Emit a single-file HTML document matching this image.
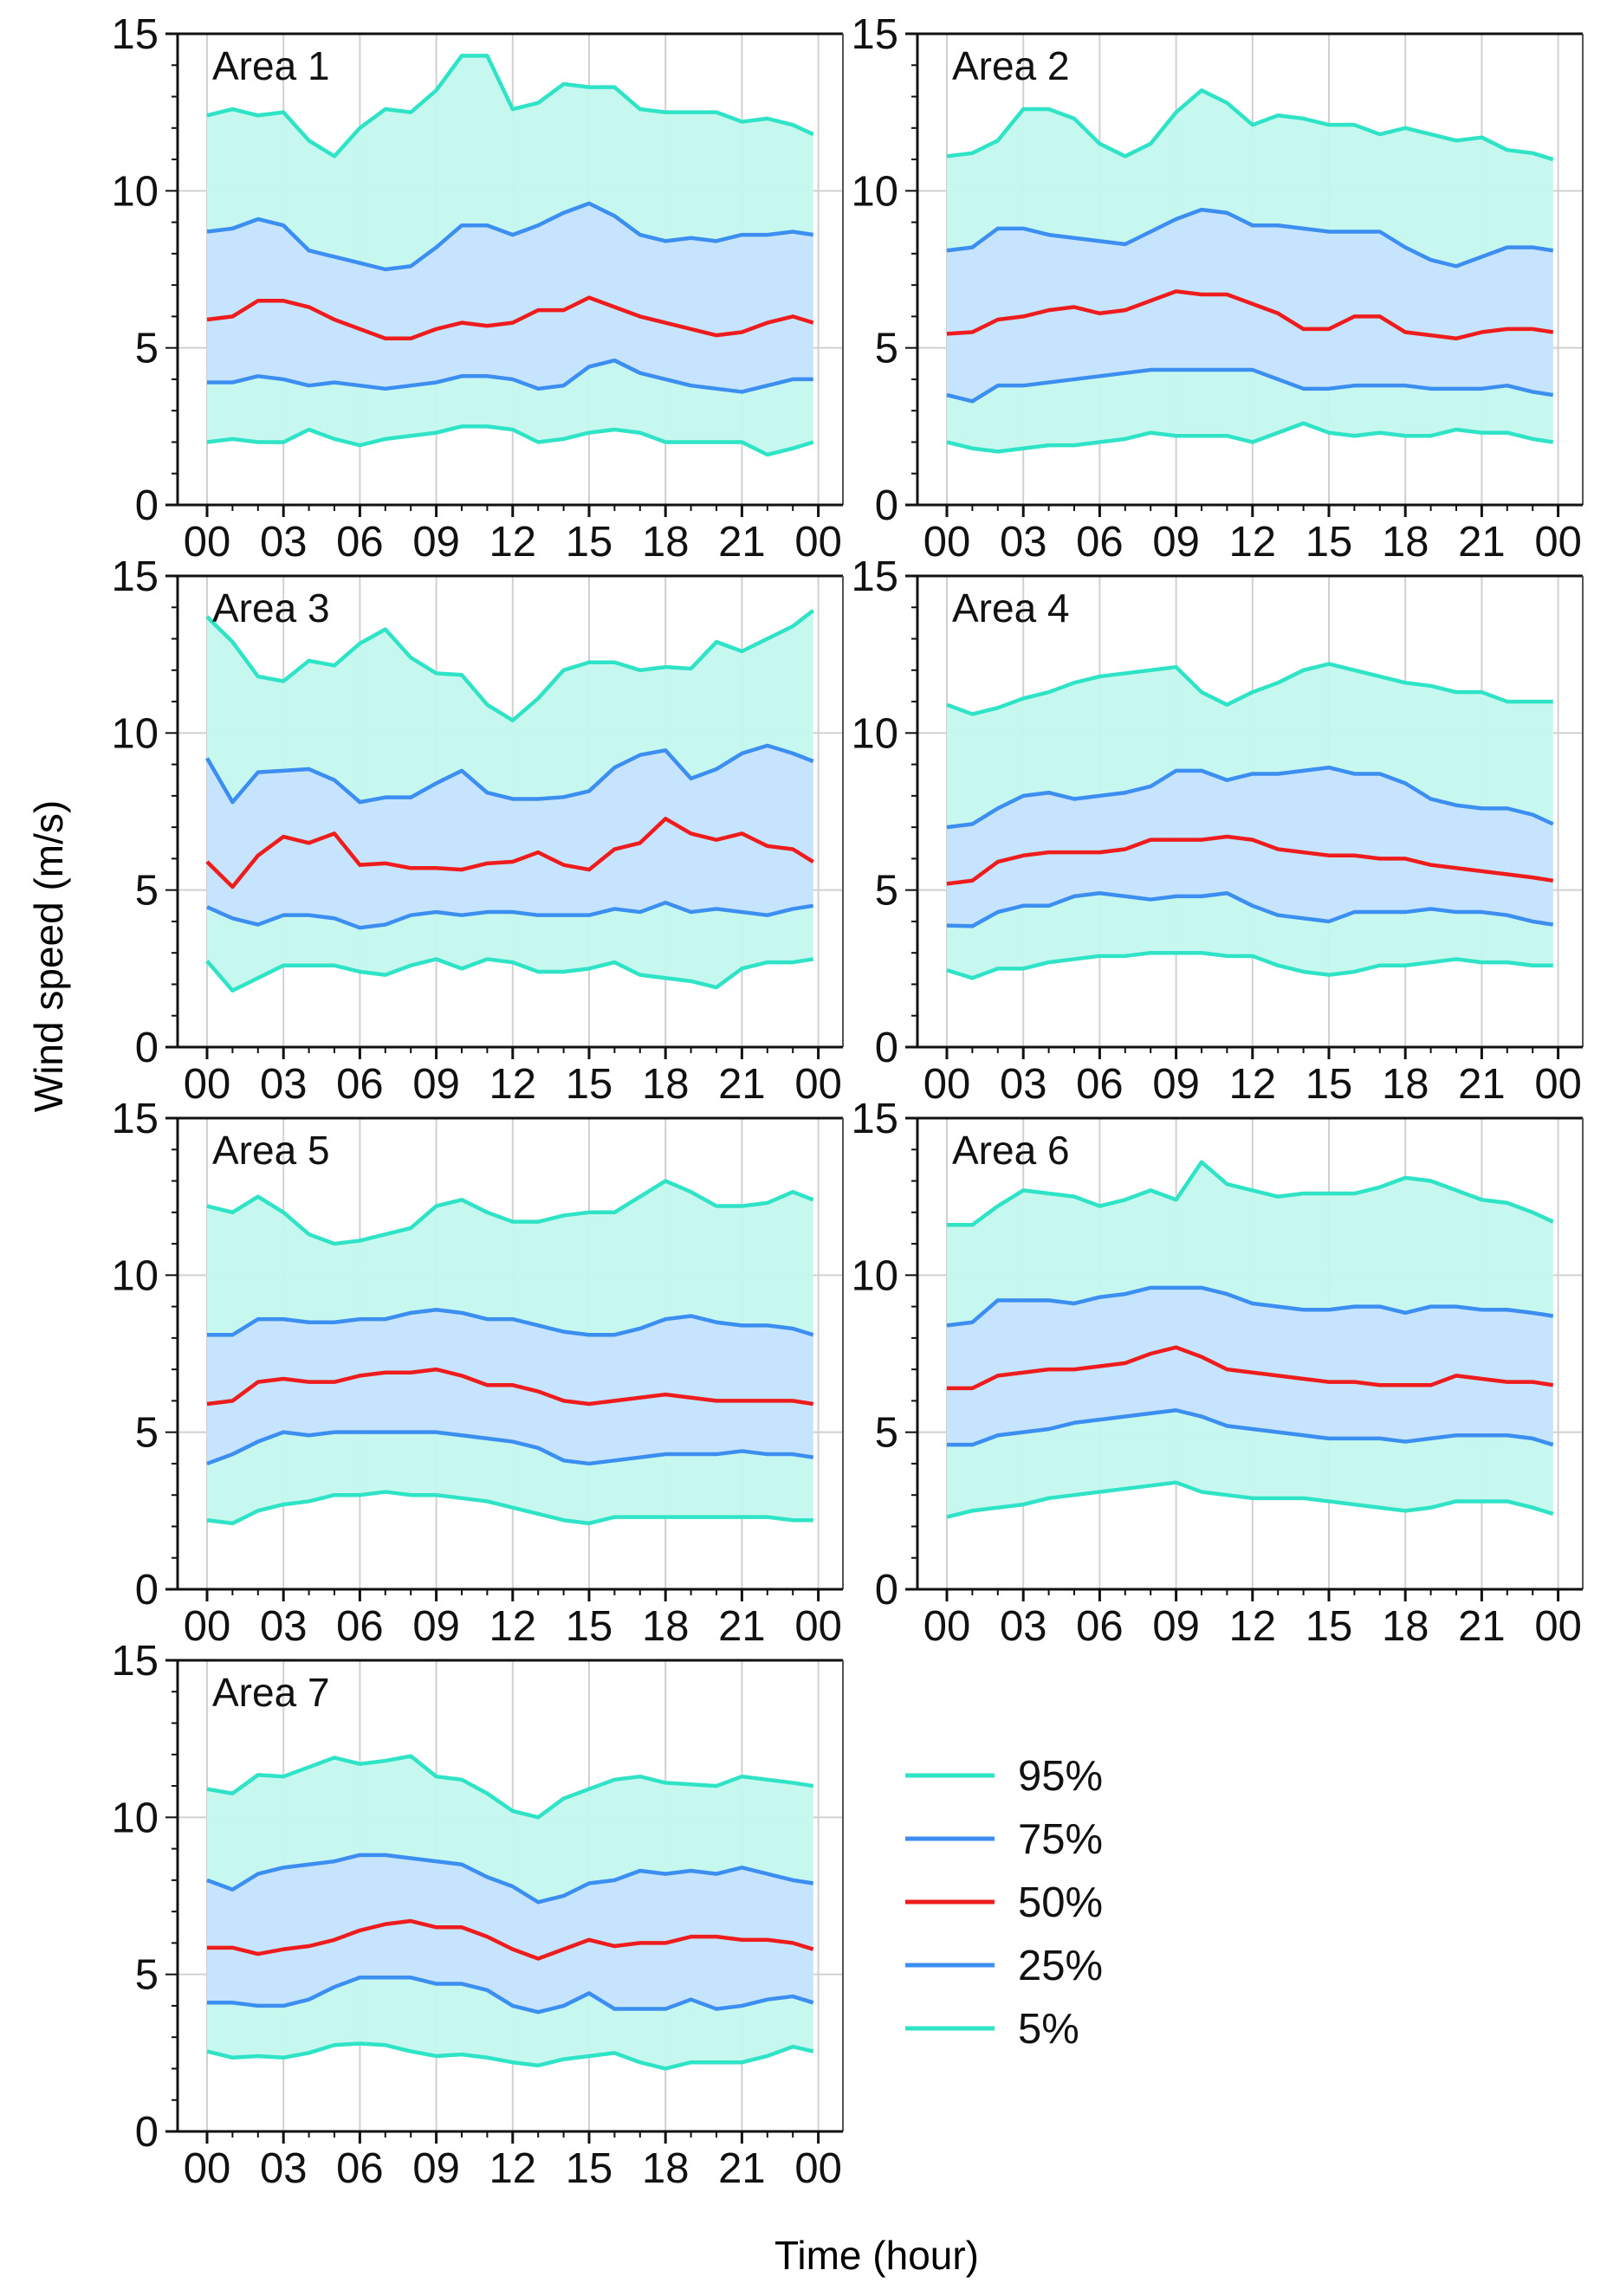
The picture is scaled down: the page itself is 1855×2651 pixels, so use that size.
<!DOCTYPE html>
<html><head><meta charset="utf-8"><style>
html,body{margin:0;padding:0;background:#fff;}
svg{display:block;font-family:"Liberation Sans",sans-serif;}
</style></head><body>
<svg id="chart" width="1855" height="2651" viewBox="0 0 1855 2651" xmlns="http://www.w3.org/2000/svg">
<text x="0" y="0" transform="translate(72,1104) rotate(-90)" font-size="46" text-anchor="middle">Wind speed (m/s)</text>
<text x="1012" y="2620" font-size="46" text-anchor="middle">Time (hour)</text>
</svg>
<script>
const hours=[0,1,2,3,4,5,6,7,8,9,10,11,12,13,14,15,16,17,18,19,20,21,22,23,23.8];
const xTickLabels=['00','03','06','09','12','15','18','21','00'];
const yTickLabels=['0','5','10','15'];
const areaNames=['Area 1','Area 2','Area 3','Area 4','Area 5','Area 6','Area 7'];
const legendLabels=['95%','75%','50%','25%','5%'];
const p95=[
[12.4,12.6,12.4,12.5,11.6,11.1,12.0,12.6,12.5,13.2,14.3,14.3,12.6,12.8,13.4,13.3,13.3,12.6,12.5,12.5,12.5,12.2,12.3,12.1,11.8],
[11.1,11.2,11.6,12.6,12.6,12.3,11.5,11.1,11.5,12.5,13.2,12.8,12.1,12.4,12.3,12.1,12.1,11.8,12.0,11.8,11.6,11.7,11.3,11.2,11.0],
[13.7,12.9,11.8,11.65,12.3,12.15,12.85,13.3,12.4,11.9,11.85,10.9,10.4,11.1,12.0,12.25,12.25,12.0,12.1,12.05,12.9,12.6,13.0,13.4,13.9],
[10.9,10.6,10.8,11.1,11.3,11.6,11.8,11.9,12.0,12.1,11.3,10.9,11.3,11.6,12.0,12.2,12.0,11.8,11.6,11.5,11.3,11.3,11.0,11.0,11.0],
[12.2,12.0,12.5,12.0,11.3,11.0,11.1,11.3,11.5,12.2,12.4,12.0,11.7,11.7,11.9,12.0,12.0,12.5,13.0,12.65,12.2,12.2,12.3,12.65,12.4],
[11.6,11.6,12.2,12.7,12.6,12.5,12.2,12.4,12.7,12.4,13.6,12.9,12.7,12.5,12.6,12.6,12.6,12.8,13.1,13.0,12.7,12.4,12.3,12.0,11.7],
[10.9,10.76,11.35,11.3,11.6,11.9,11.7,11.8,11.95,11.3,11.2,10.76,10.2,10.0,10.6,10.9,11.2,11.3,11.1,11.05,11.0,11.3,11.2,11.1,11.0]];
const p75=[
[8.7,8.8,9.1,8.9,8.1,7.9,7.7,7.5,7.6,8.2,8.9,8.9,8.6,8.9,9.3,9.6,9.2,8.6,8.4,8.5,8.4,8.6,8.6,8.7,8.6],
[8.1,8.2,8.8,8.8,8.6,8.5,8.4,8.3,8.7,9.1,9.4,9.3,8.9,8.9,8.8,8.7,8.7,8.7,8.2,7.8,7.6,7.9,8.2,8.2,8.1],
[9.2,7.8,8.75,8.8,8.85,8.5,7.8,7.95,7.95,8.4,8.8,8.1,7.9,7.9,7.96,8.15,8.9,9.3,9.45,8.55,8.85,9.35,9.6,9.35,9.1],
[7.0,7.1,7.6,8.0,8.1,7.9,8.0,8.1,8.3,8.8,8.8,8.5,8.7,8.7,8.8,8.9,8.7,8.7,8.4,7.9,7.7,7.6,7.6,7.4,7.1],
[8.1,8.1,8.6,8.6,8.5,8.5,8.6,8.6,8.8,8.9,8.8,8.6,8.6,8.4,8.2,8.1,8.1,8.3,8.6,8.7,8.5,8.4,8.4,8.3,8.1],
[8.4,8.5,9.2,9.2,9.2,9.1,9.3,9.4,9.6,9.6,9.6,9.4,9.1,9.0,8.9,8.9,9.0,9.0,8.8,9.0,9.0,8.9,8.9,8.8,8.7],
[8.0,7.7,8.2,8.4,8.5,8.6,8.8,8.8,8.7,8.6,8.5,8.1,7.8,7.3,7.5,7.9,8.0,8.3,8.2,8.3,8.2,8.4,8.2,8.0,7.9]];
const p50=[
[5.9,6.0,6.5,6.5,6.3,5.9,5.6,5.3,5.3,5.6,5.8,5.7,5.8,6.2,6.2,6.6,6.3,6.0,5.8,5.6,5.4,5.5,5.8,6.0,5.8],
[5.45,5.5,5.9,6.0,6.2,6.3,6.1,6.2,6.5,6.8,6.7,6.7,6.4,6.1,5.6,5.6,6.0,6.0,5.5,5.4,5.3,5.5,5.6,5.6,5.5],
[5.9,5.1,6.1,6.7,6.5,6.8,5.8,5.85,5.7,5.7,5.65,5.85,5.9,6.2,5.8,5.65,6.3,6.5,7.27,6.8,6.6,6.8,6.4,6.3,5.9],
[5.2,5.3,5.9,6.1,6.2,6.2,6.2,6.3,6.6,6.6,6.6,6.7,6.6,6.3,6.2,6.1,6.1,6.0,6.0,5.8,5.7,5.6,5.5,5.4,5.3],
[5.9,6.0,6.6,6.7,6.6,6.6,6.8,6.9,6.9,7.0,6.8,6.5,6.5,6.3,6.0,5.9,6.0,6.1,6.2,6.1,6.0,6.0,6.0,6.0,5.9],
[6.4,6.4,6.8,6.9,7.0,7.0,7.1,7.2,7.5,7.7,7.4,7.0,6.9,6.8,6.7,6.6,6.6,6.5,6.5,6.5,6.8,6.7,6.6,6.6,6.5],
[5.85,5.85,5.65,5.8,5.9,6.1,6.4,6.6,6.7,6.5,6.5,6.2,5.8,5.5,5.8,6.1,5.9,6.0,6.0,6.2,6.2,6.1,6.1,6.0,5.8]];
const p25=[
[3.9,3.9,4.1,4.0,3.8,3.9,3.8,3.7,3.8,3.9,4.1,4.1,4.0,3.7,3.8,4.4,4.6,4.2,4.0,3.8,3.7,3.6,3.8,4.0,4.0],
[3.5,3.3,3.8,3.8,3.9,4.0,4.1,4.2,4.3,4.3,4.3,4.3,4.3,4.0,3.7,3.7,3.8,3.8,3.8,3.7,3.7,3.7,3.8,3.6,3.5],
[4.46,4.1,3.9,4.2,4.2,4.1,3.8,3.9,4.2,4.3,4.2,4.3,4.3,4.2,4.2,4.2,4.4,4.3,4.6,4.3,4.4,4.3,4.2,4.4,4.5],
[3.87,3.85,4.3,4.5,4.5,4.8,4.9,4.8,4.7,4.8,4.8,4.9,4.5,4.2,4.1,4.0,4.3,4.3,4.3,4.4,4.3,4.3,4.2,4.0,3.9],
[4.0,4.3,4.7,5.0,4.9,5.0,5.0,5.0,5.0,5.0,4.9,4.8,4.7,4.5,4.1,4.0,4.1,4.2,4.3,4.3,4.3,4.4,4.3,4.3,4.2],
[4.6,4.6,4.9,5.0,5.1,5.3,5.4,5.5,5.6,5.7,5.5,5.2,5.1,5.0,4.9,4.8,4.8,4.8,4.7,4.8,4.9,4.9,4.9,4.8,4.6],
[4.1,4.1,4.0,4.0,4.2,4.6,4.9,4.9,4.9,4.7,4.7,4.5,4.0,3.8,4.0,4.4,3.9,3.9,3.9,4.2,3.9,4.0,4.2,4.3,4.1]];
const p5=[
[2.0,2.1,2.0,2.0,2.4,2.1,1.9,2.1,2.2,2.3,2.5,2.5,2.4,2.0,2.1,2.3,2.4,2.3,2.0,2.0,2.0,2.0,1.6,1.8,2.0],
[2.0,1.8,1.7,1.8,1.9,1.9,2.0,2.1,2.3,2.2,2.2,2.2,2.0,2.3,2.6,2.3,2.2,2.3,2.2,2.2,2.4,2.3,2.3,2.1,2.0],
[2.74,1.8,2.2,2.6,2.6,2.6,2.4,2.3,2.6,2.8,2.5,2.8,2.7,2.4,2.4,2.5,2.7,2.3,2.2,2.1,1.9,2.5,2.7,2.7,2.8],
[2.45,2.2,2.5,2.5,2.7,2.8,2.9,2.9,3.0,3.0,3.0,2.9,2.9,2.6,2.4,2.3,2.4,2.6,2.6,2.7,2.8,2.7,2.7,2.6,2.6],
[2.2,2.1,2.5,2.7,2.8,3.0,3.0,3.1,3.0,3.0,2.9,2.8,2.6,2.4,2.2,2.1,2.3,2.3,2.3,2.3,2.3,2.3,2.3,2.2,2.2],
[2.3,2.5,2.6,2.7,2.9,3.0,3.1,3.2,3.3,3.4,3.1,3.0,2.9,2.9,2.9,2.8,2.7,2.6,2.5,2.6,2.8,2.8,2.8,2.6,2.4],
[2.55,2.35,2.4,2.35,2.5,2.75,2.8,2.75,2.55,2.4,2.45,2.35,2.2,2.1,2.3,2.4,2.5,2.2,2.0,2.2,2.2,2.2,2.4,2.7,2.55]];

const NS='http://www.w3.org/2000/svg';
const svg=document.getElementById('chart');
function mk(tag,attrs,parent){const e=document.createElementNS(NS,tag);for(const k in attrs)e.setAttribute(k,attrs[k]);(parent||svg).appendChild(e);return e;}
const C95='#2fe3c6',F95='#c4f8ee',C75='#3c8ef0',F75='#c6e3fd',C50='#ee1c1c';
const PW=768,PH=544;
areaNames.forEach((name,i)=>{
  const col=i%2,row=Math.floor(i/2);
  const L=205+col*854,T=39+row*626,B=T+PH,R=L+PW;
  const x=h=>L+34+h*29.4;
  const y=v=>B-v*(PH/15);
  const g=mk('g',{});
  
  
  for(let h=0;h<=24;h+=3){const l=mk('line',{x1:x(h),x2:x(h),y1:T,y2:B,stroke:'#d0d0d0','stroke-width':2},g);}
  [5,10].forEach(v=>{const l=mk('line',{x1:L,x2:R,y1:y(v),y2:y(v),stroke:'#d0d0d0','stroke-width':2},g);});
  function band(a,b,fill,nm){
    let d='M'+hours.map((h,k)=>x(h)+','+y(a[k])).join('L');
    d+='L'+hours.slice().reverse().map((h,k)=>x(h)+','+y(b[hours.length-1-k])).join('L')+'Z';
    const p=mk('path',{d:d,fill:fill,opacity:0.95},g);
    
    
  }
  function line(a,color,nm){
    const p=mk('path',{d:'M'+hours.map((h,k)=>x(h)+','+y(a[k])).join('L'),fill:'none',stroke:color,'stroke-width':4.5,'stroke-linejoin':'round'},g);
    
    
  }
  band(p95[i],p5[i],F95,'band-5-95');
  band(p75[i],p25[i],F75,'band-25-75');
  line(p95[i],C95,'line-p95');line(p5[i],C95,'line-p5');
  line(p75[i],C75,'line-p75');line(p25[i],C75,'line-p25');
  line(p50[i],C50,'line-p50');
  mk('line',{x1:L-14,x2:R,y1:T,y2:T,stroke:'#111','stroke-width':3},g);
  mk('line',{x1:R,x2:R,y1:T,y2:B,stroke:'#555','stroke-width':2},g);
  mk('line',{x1:L,x2:L,y1:T,y2:B,stroke:'#111','stroke-width':3},g);
  mk('line',{x1:L-14,x2:R,y1:B,y2:B,stroke:'#111','stroke-width':3},g);
  for(let v=1;v<15;v++){mk('line',{x1:L-(v%5?7:14),x2:L,y1:y(v),y2:y(v),stroke:'#111','stroke-width':2},g);}
  for(let h=0;h<=24;h++){mk('line',{x1:x(h),x2:x(h),y1:B,y2:B+(h%3?7:14),stroke:'#111','stroke-width':h%3?2:3},g);}
  yTickLabels.forEach((t,k)=>{const e=mk('text',{x:L-22,y:y(k*5)+17,'font-size':49,'text-anchor':'end',fill:'#111'},g);e.textContent=t;});
  xTickLabels.forEach((t,k)=>{const e=mk('text',{x:x(k*3),y:B+59,'font-size':49,'text-anchor':'middle',fill:'#111'},g);e.textContent=t;});
  const lab=mk('text',{x:L+40,y:T+53,'font-size':46,fill:'#111'},g);
  lab.textContent=name;
  
  
});
const legendColors=[C95,C75,C50,C75,C95];
const lg=mk('g',{});


legendLabels.forEach((t,k)=>{
  const yy=2050+k*73;
  const ln=mk('line',{x1:1045,x2:1148,y1:yy,y2:yy,stroke:legendColors[k],'stroke-width':5},lg);
  
  
  const tx=mk('text',{x:1175,y:yy+17,'font-size':49,fill:'#111'},lg);
  tx.textContent=t;
  
  
});
</script>
</body></html>
